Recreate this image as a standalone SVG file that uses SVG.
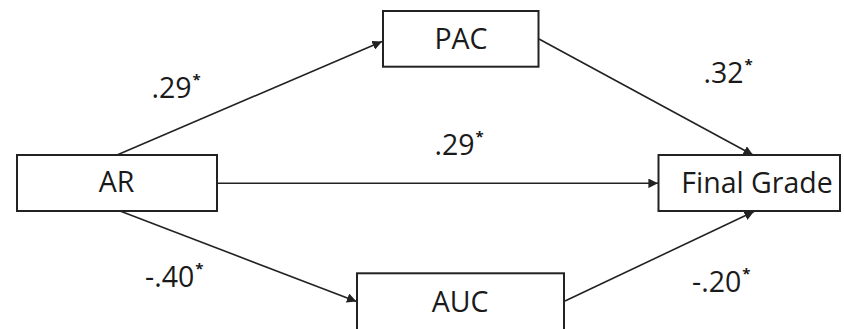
<svg xmlns="http://www.w3.org/2000/svg" width="844" height="329" viewBox="0 0 844 329">
<style>
.box{fill:#fff;stroke:#222;stroke-width:2}
.lbl{font-family:"Open Sans","Noto Sans",sans-serif;font-size:28.5px;fill:#1a1a1a;text-anchor:middle}
.coef{font-family:"Open Sans","Noto Sans",sans-serif;font-size:28.5px;fill:#1a1a1a}
.star{font-size:15px;font-weight:bold}
.edge{stroke:#222;stroke-width:1.6;fill:none;marker-end:url(#ah)}
</style>
<defs>
<marker id="ah" viewBox="0 0 10 10" refX="10" refY="5" markerWidth="6" markerHeight="6" orient="auto" markerUnits="strokeWidth">
<path d="M0,0 L10,5 L0,10 z" fill="#222"/>
</marker>
</defs>
<rect width="844" height="329" fill="#fff"/>
<g id="connectors">
<line class="edge" x1="117" y1="155" x2="382" y2="41.5"/>
<line class="edge" x1="539" y1="39" x2="753" y2="155"/>
<line class="edge" x1="217" y1="183.3" x2="658" y2="183.3"/>
<line class="edge" x1="120" y1="211" x2="356.5" y2="301.5"/>
<line class="edge" x1="565" y1="301" x2="754" y2="211.5"/>
</g>
<g id="node-AR">
<rect class="box" x="17" y="155" width="200" height="56"/>
<text class="lbl" x="116.5" y="191.7">AR</text>
</g>
<g id="node-PAC">
<rect class="box" x="383" y="11" width="155.5" height="55.7"/>
<text class="lbl" x="461" y="49.3">PAC</text>
</g>
<g id="node-FinalGrade">
<rect class="box" x="658.5" y="155" width="181.5" height="56"/>
<text class="lbl" x="757" y="192.7">Final Grade</text>
</g>
<g id="node-AUC">
<rect class="box" x="357" y="273.3" width="207" height="60"/>
<text class="lbl" x="460" y="312.3">AUC</text>
</g>
<g id="labels">
<text class="coef" x="151.5" y="97.7">.29<tspan class="star" dx="1" dy="-13">*</tspan></text>
<text class="coef" x="434.5" y="155">.29<tspan class="star" dx="1" dy="-13">*</tspan></text>
<text class="coef" x="703.5" y="83.3">.32<tspan class="star" dx="1" dy="-13">*</tspan></text>
<text class="coef" x="145" y="286.7">-.40<tspan class="star" dx="1" dy="-13">*</tspan></text>
<text class="coef" x="692" y="291.7">-.20<tspan class="star" dx="1" dy="-13">*</tspan></text>
</g>
</svg>
